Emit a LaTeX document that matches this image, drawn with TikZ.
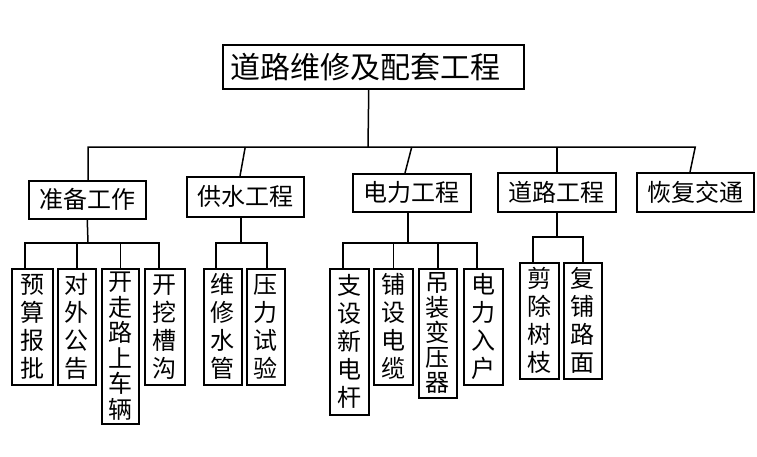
\documentclass[tikz,border=0pt]{standalone}
\usepackage{fontspec}
\newfontfamily\cjk{Noto Sans CJK SC}
\newcommand\vf[1]{\cjk\fontsize{24}{#1}\selectfont}
\tikzset{
  box/.style={draw, line width=1.5pt, inner sep=0pt, anchor=north west},
  hbox/.style={box, font=\cjk\fontsize{24}{28}\selectfont},
  vbox/.style={box, align=center, text width=#1},
  link/.style={line width=1.5pt}
}
\begin{document}
\begin{tikzpicture}[x=1pt,y=-1pt]
\useasboundingbox (0,0) rectangle (757,456);
\fill[white] (0,0) rectangle (757,456);
% top
\node[box, minimum width=301pt, minimum height=44pt, text width=285pt, align=left, inner xsep=8pt, font=\cjk\fontsize{30}{34}\selectfont] (top) at (222,44) {道路维修及配套工程};
% level 2
\node[hbox, minimum width=117pt, minimum height=38pt] (zb) at (28,180) {准备工作};
\node[hbox, minimum width=117pt, minimum height=40pt] (gs) at (186,176) {供水工程};
\node[hbox, minimum width=118pt, minimum height=38pt] (dl) at (352,173) {电力工程};
\node[hbox, minimum width=118pt, minimum height=39pt] (dr) at (497,172) {道路工程};
\node[hbox, minimum width=117pt, minimum height=39pt] (hf) at (636,172) {恢复交通};
% level 3
\node[vbox=41pt, minimum height=116pt, font=\vf{28}] (a1) at (11,268) {预\\算\\报\\批};
\node[vbox=38pt, minimum height=116pt, font=\vf{28}] (a2) at (57,268) {对\\外\\公\\告};
\node[vbox=37pt, minimum height=155pt, font=\vf{25.5}] (a3) at (101,268) {开\\走\\路\\上\\车\\辆};
\node[vbox=40pt, minimum height=116pt, font=\vf{28}] (a4) at (144,268) {开\\挖\\槽\\沟};
\node[vbox=38pt, minimum height=116pt, font=\vf{28}] (b1) at (203,268) {维\\修\\水\\管};
\node[vbox=38pt, minimum height=116pt, font=\vf{28}] (b2) at (246,268) {压\\力\\试\\验};
\node[vbox=39pt, minimum height=146pt, font=\vf{28}] (c1) at (329,268) {支\\设\\新\\电\\杆};
\node[vbox=39pt, minimum height=116pt, font=\vf{28}] (c2) at (373,268) {铺\\设\\电\\缆};
\node[vbox=38pt, minimum height=129pt, font=\vf{25}] (c3) at (418,268) {吊\\装\\变\\压\\器};
\node[vbox=39pt, minimum height=116pt, font=\vf{28}] (c4) at (463,268) {电\\力\\入\\户};
\node[vbox=39pt, minimum height=116pt, font=\vf{28}] (d1) at (519,262) {剪\\除\\树\\枝};
\node[vbox=38pt, minimum height=116pt, font=\vf{28}] (d2) at (563,262) {复\\铺\\路\\面};
% bus coordinates
\coordinate (t0) at (368,147);
\coordinate (z0) at (88,243);
\coordinate (g0) at (241,243);
\coordinate (e0) at (408,243);
\coordinate (r0) at (557,237);
% top to level 2
\draw[link] ([xshift=-4.5pt]top.south) -- (t0);
\draw[link] (zb.north -| 88,0) |- (hf.north |- t0) -- (hf.north -| 690,0);
\draw[link] (gs.north -| 240,0) -- (gs.north |- t0);
\draw[link] (dl.north -| 405,0) -- (dl.north |- t0);
\draw[link] (dr.north) -- (dr.north |- t0);
% 准备工作
\draw[link] (zb.south) -- (z0);
\draw[link] ([xshift=-7.5pt]a1.north) |- ([xshift=-6pt]a4.north |- z0) -- ([xshift=-6pt]a4.north);
\draw[link] (a2.north) -- (a2.north |- z0);
\draw[link] (a3.north) -- (a3.north |- z0);
% 供水工程
\draw[link] (gs.south -| g0) -- (g0);
\draw[link] ([xshift=-7pt]b1.north) |- ([xshift=1pt]b2.north |- g0) -- ([xshift=1pt]b2.north);
% 电力工程
\draw[link] (dl.south -| e0) -- (e0);
\draw[link] ([xshift=-6.5pt]c1.north) |- ([xshift=-6.5pt]c4.north |- e0) -- ([xshift=-6.5pt]c4.north);
\draw[link] (c2.north) -- (c2.north |- e0);
\draw[link] (c3.north) -- (c3.north |- e0);
% 道路工程
\draw[link] (dr.south -| r0) -- (r0);
\draw[link] ([xshift=-6.5pt]d1.north) |- ([xshift=0pt]d2.north |- r0) -- (d2.north);
\end{tikzpicture}
\end{document}
